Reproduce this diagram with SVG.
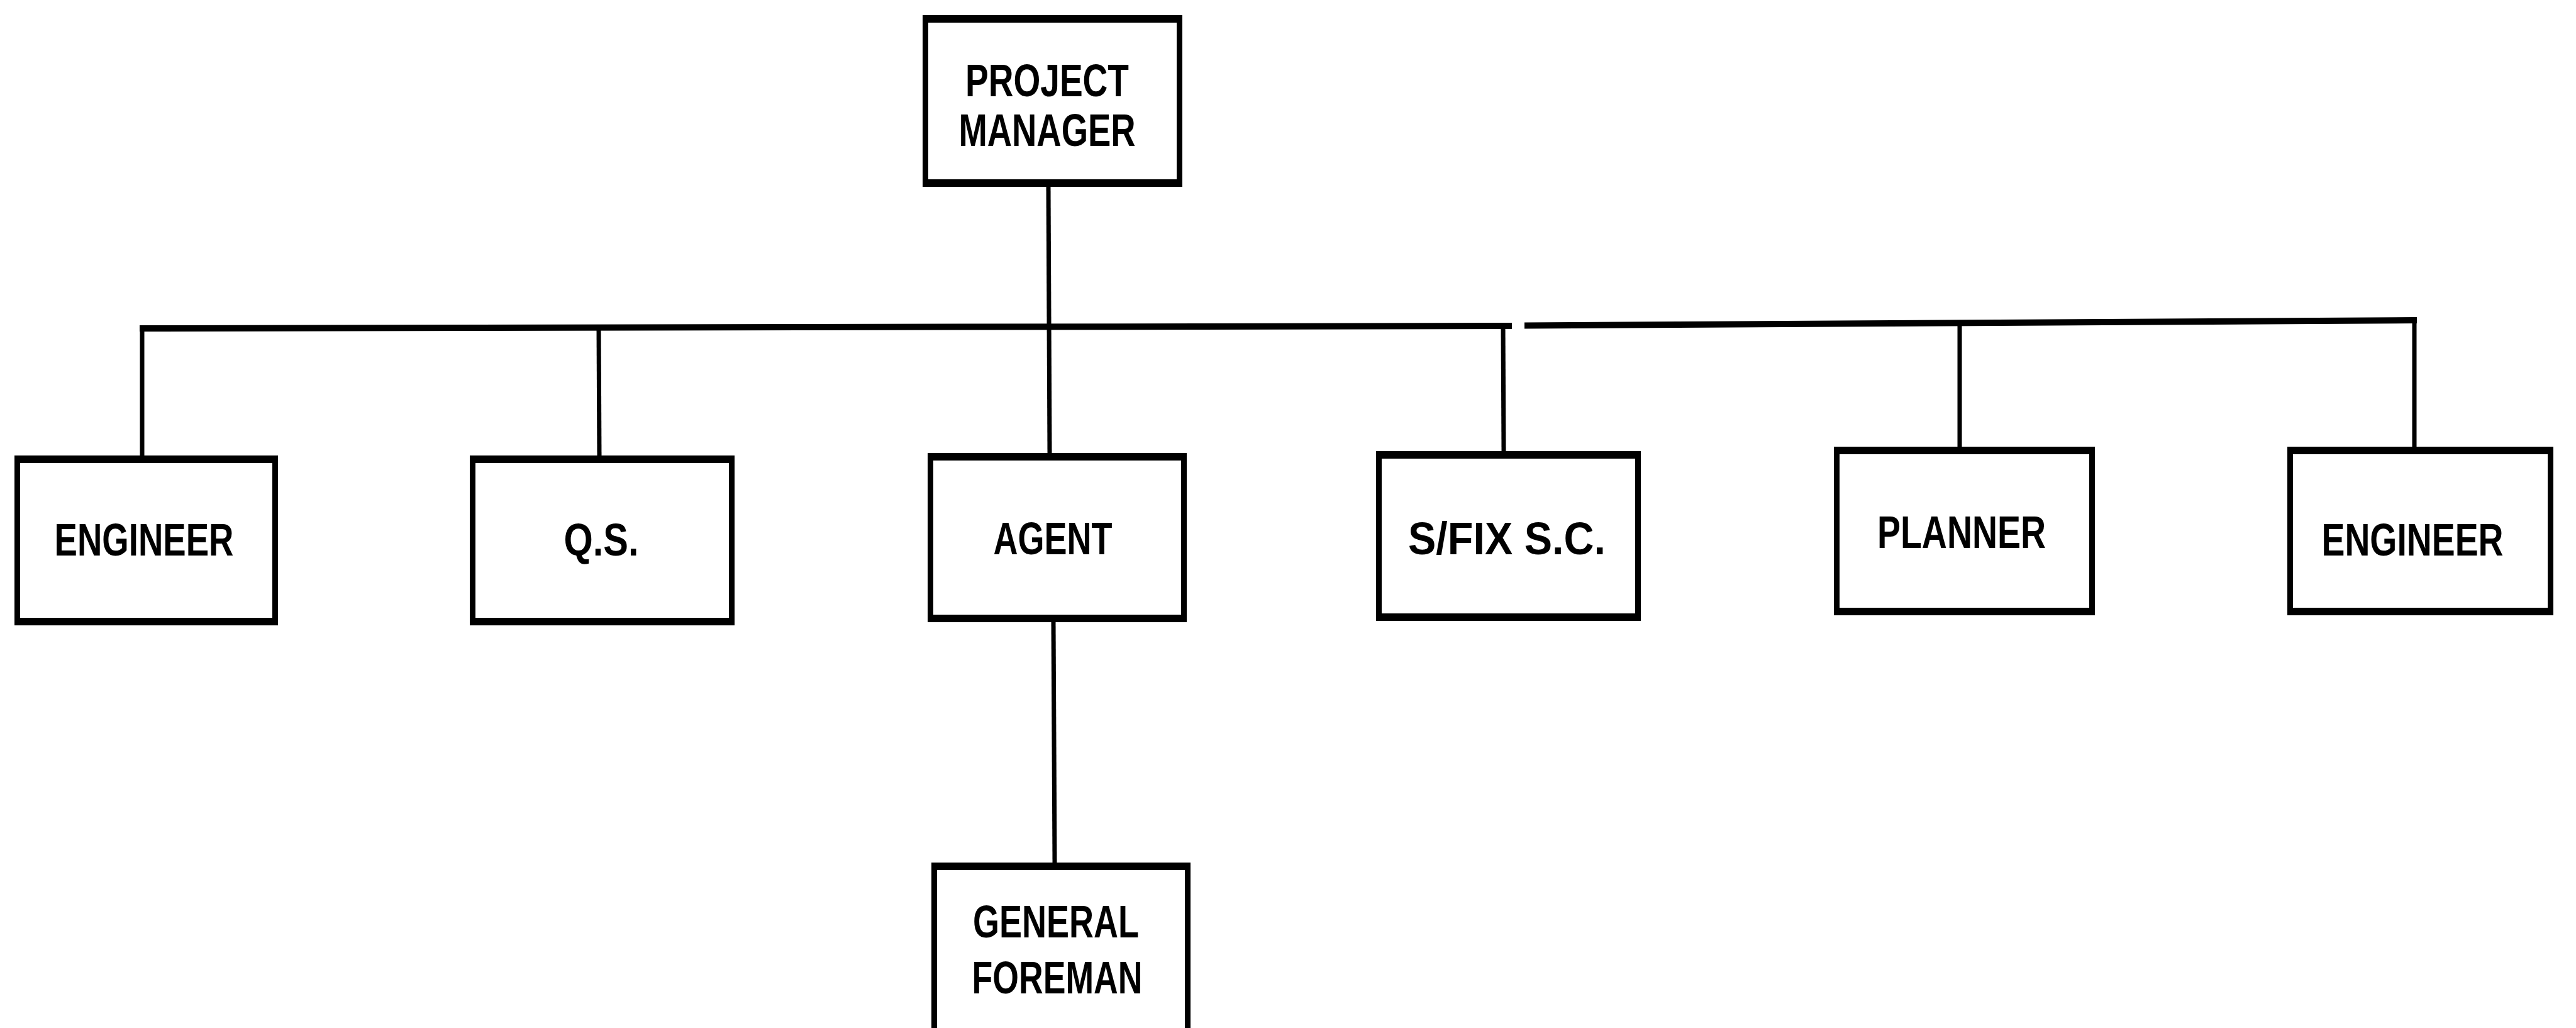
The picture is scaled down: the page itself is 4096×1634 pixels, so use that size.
<svg xmlns="http://www.w3.org/2000/svg" width="4096" height="1634" viewBox="0 0 4096 1634">
<style>
.frame{fill:#000}
.inner{fill:#fff}
.lbl{font-family:"Liberation Sans",Arial,sans-serif;font-weight:bold;font-size:72px;fill:#000;text-anchor:middle}
.bus{stroke:#000;stroke-width:10;fill:none}
.conn{stroke:#000;stroke-width:7;fill:none}
</style>
<rect width="4096" height="1634" fill="#fff"/>
<g id="connectors">
<path class="bus" d="M222,522 L2404,518 M2424,517.5 L3843,509"/>
<path class="conn" d="M1667,297 L1669,720"/>
<path class="conn" d="M226,522 L226,724"/>
<path class="conn" d="M952,521 L953,724"/>
<path class="conn" d="M2390,518 L2391,717"/>
<path class="conn" d="M3116,511 L3116,710"/>
<path class="conn" d="M3839,509 L3839,710"/>
<path class="conn" d="M1675,989 L1677,1371"/>
</g>
<g id="project-manager">
<rect class="frame" x="1467" y="24" width="413" height="273"/>
<rect class="inner" x="1476" y="36" width="395" height="249"/>
<text class="lbl" x="1665" y="153" textLength="260" lengthAdjust="spacingAndGlyphs">PROJECT</text>
<text class="lbl" x="1665" y="232" textLength="281" lengthAdjust="spacingAndGlyphs">MANAGER</text>
</g>
<g id="engineer-1">
<rect class="frame" x="23" y="724" width="419" height="270"/>
<rect class="inner" x="32" y="736" width="401" height="246"/>
<text class="lbl" x="229" y="883" textLength="285" lengthAdjust="spacingAndGlyphs">ENGINEER</text>
</g>
<g id="qs">
<rect class="frame" x="747" y="724" width="421" height="270"/>
<rect class="inner" x="756" y="736" width="403" height="246"/>
<text class="lbl" x="956" y="883" textLength="119" lengthAdjust="spacingAndGlyphs">Q.S.</text>
</g>
<g id="agent">
<rect class="frame" x="1475" y="720" width="412" height="269"/>
<rect class="inner" x="1484" y="732" width="394" height="245"/>
<text class="lbl" x="1674" y="881" textLength="189" lengthAdjust="spacingAndGlyphs">AGENT</text>
</g>
<g id="sfix-sc">
<rect class="frame" x="2188" y="717" width="421" height="270"/>
<rect class="inner" x="2197" y="729" width="403" height="246"/>
<text class="lbl" x="2396" y="881" textLength="314" lengthAdjust="spacingAndGlyphs">S/FIX S.C.</text>
</g>
<g id="planner">
<rect class="frame" x="2916" y="710" width="415" height="268"/>
<rect class="inner" x="2925" y="722" width="397" height="244"/>
<text class="lbl" x="3119" y="871" textLength="268" lengthAdjust="spacingAndGlyphs">PLANNER</text>
</g>
<g id="engineer-2">
<rect class="frame" x="3637" y="710" width="423" height="268"/>
<rect class="inner" x="3646" y="722" width="405" height="244"/>
<text class="lbl" x="3836" y="883" textLength="289" lengthAdjust="spacingAndGlyphs">ENGINEER</text>
</g>
<g id="general-foreman">
<rect class="frame" x="1481" y="1371" width="412" height="263"/>
<rect class="inner" x="1490" y="1383" width="394" height="251"/>
<text class="lbl" x="1679" y="1490" textLength="264" lengthAdjust="spacingAndGlyphs">GENERAL</text>
<text class="lbl" x="1681" y="1579" textLength="271" lengthAdjust="spacingAndGlyphs">FOREMAN</text>
</g>
</svg>
